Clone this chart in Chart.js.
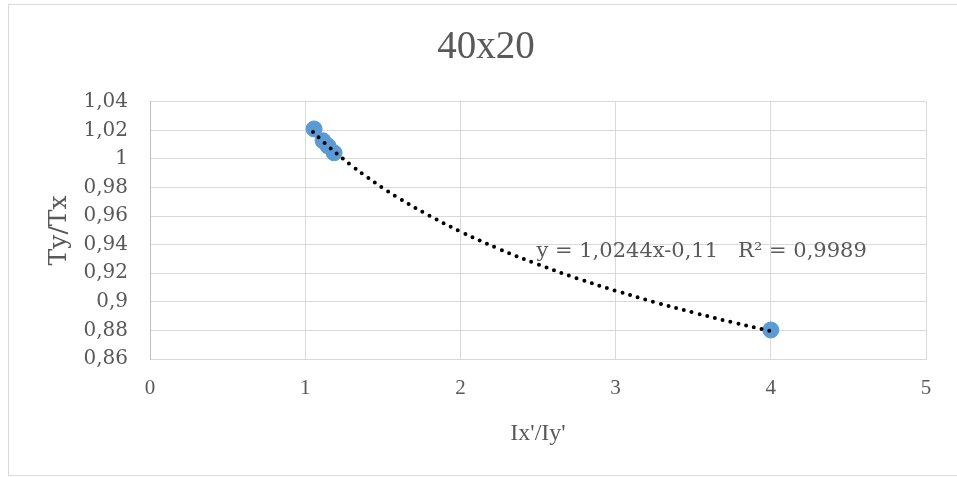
<!DOCTYPE html>
<html>
<head>
<meta charset="utf-8">
<script src="https://cdn.jsdelivr.net/npm/chart.js@4.4.1/dist/chart.umd.min.js"></script>
<style>
  html, body { margin: 0; padding: 0; background: #fff; }
  #wrap { width: 957px; height: 477px; position: relative; }
</style>
</head>
<body>
<div id="wrap"><canvas id="myChart" width="957" height="477"></canvas></div>
<script>
// measured points (Ix'/Iy', Ty/Tx)
const ratioX = [1.057, 1.115, 1.147, 1.186, 4.0];
const ratioY = [1.021, 1.0127, 1.009, 1.0043, 0.8803];

// power trendline shown on the chart: y = 1,0244x-0,11
const trendA = 1.0244;
const trendB = -0.11;
const trendXs = [1.05, 1.1, 1.15, 1.2, 1.3, 1.4, 1.5, 1.6, 1.8, 2.0, 2.25, 2.5, 2.75, 3.0, 3.25, 3.5, 3.75, 4.0];

const xTicks = [0, 1, 2, 3, 4, 5];
const yTicks = [0.86, 0.88, 0.9, 0.92, 0.94, 0.96, 0.98, 1, 1.02, 1.04];

const titleText = '40x20';
const equationText = 'y = 1,0244x-0,11   R² = 0,9989';

const textGrey = '#595959';
const gridGrey = '#d9d9d9';

const points = ratioX.map((x, i) => ({x: x, y: ratioY[i]}));
const trend = trendXs.map(x => ({x: x, y: trendA * Math.pow(x, trendB)}));

function fmt(v) {
    return String(Math.round(v * 100) / 100).replace('.', ',');
}

// frame round the chart, centred title, equation label
const extras = {
    id: 'extras',
    beforeDraw(chart) {
        const ctx = chart.ctx;
        ctx.save();
        ctx.strokeStyle = gridGrey;
        ctx.lineWidth = 1;
        ctx.strokeRect(8.5, 4.5, 960, 471);
        ctx.restore();
    },
    afterDraw(chart) {
        const ctx = chart.ctx;
        ctx.save();
        ctx.font = '39px "Liberation Serif"';
        ctx.fillStyle = textGrey;
        ctx.textAlign = 'center';
        ctx.textBaseline = 'middle';
        ctx.fillText(titleText, 486, 48);
        ctx.restore();
    },
    afterDatasetsDraw(chart) {
        const ctx = chart.ctx;
        const xs = chart.scales.x, ys = chart.scales.y;
        ctx.save();
        ctx.font = '21px "DejaVu Serif"';
        ctx.fillStyle = textGrey;
        ctx.textAlign = 'left';
        ctx.textBaseline = 'middle';
        ctx.fillText(equationText, xs.getPixelForValue(2.49), ys.getPixelForValue(0.935));
        ctx.restore();
    }
};

const ctx = document.getElementById('myChart').getContext('2d');
const chart = new Chart(ctx, {
    type: 'scatter',
    data: {
        datasets: [{
            label: 'points',
            data: points,
            backgroundColor: '#5b9bd5',
            borderColor: '#5b9bd5',
            pointRadius: 8,
            order: 2
        }, {
            label: 'trend',
            data: trend,
            showLine: true,
            pointRadius: 0,
            borderColor: '#000',
            borderWidth: 4,
            borderDash: [0, 8],
            borderCapStyle: 'round',
            tension: 0.4,
            order: 1
        }]
    },
    options: {
        responsive: false,
        animation: false,
        layout: {padding: {top: 24, right: 31, bottom: 0, left: 0}},
        plugins: {
            legend: {display: false},
            tooltip: {enabled: false},
            title: {
                // space holder, the text is drawn by the extras plugin
                display: true,
                text: titleText,
                color: 'rgba(0,0,0,0)',
                font: {family: '"Liberation Serif"', size: 39, weight: 'normal'},
                padding: {top: 0, bottom: 31}
            }
        },
        scales: {
            x: {
                type: 'linear',
                min: 0, max: 5,
                afterBuildTicks: s => { s.ticks = xTicks.map(v => ({value: v})); },
                afterFit: s => { s.height = 118; },
                ticks: {
                    color: textGrey,
                    padding: 17,
                    font: {family: '"Liberation Serif"', size: 21}
                },
                grid: {color: gridGrey, drawTicks: false},
                border: {color: gridGrey},
                title: {
                    display: true,
                    text: "Ix'/Iy'",
                    color: textGrey,
                    font: {family: '"Liberation Serif"', size: 24},
                    padding: {top: 0, bottom: 29}
                }
            },
            y: {
                type: 'linear',
                min: 0.86, max: 1.04,
                afterBuildTicks: s => { s.ticks = yTicks.map(v => ({value: v})); },
                afterFit: s => { s.width = 150; },
                ticks: {
                    color: textGrey,
                    padding: 22,
                    font: {family: '"DejaVu Serif"', size: 20},
                    callback: v => fmt(v)
                },
                grid: {color: gridGrey, drawTicks: false},
                border: {color: '#bfbfbf'},
                title: {
                    display: true,
                    text: 'Ty/Tx',
                    color: textGrey,
                    font: {family: '"DejaVu Serif"', size: 25},
                    padding: {top: 44, bottom: 0}
                }
            }
        }
    },
    plugins: [extras]
});
</script>
</body>
</html>
